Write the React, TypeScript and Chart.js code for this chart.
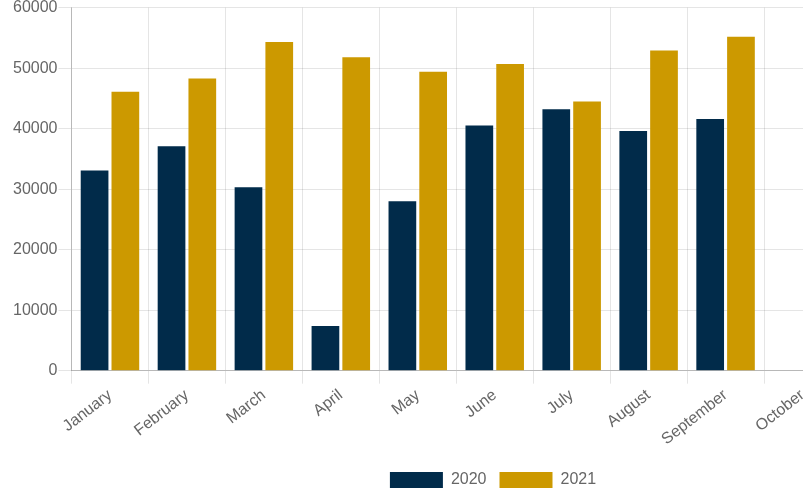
import { useEffect, useRef } from "react";
import { Chart, registerables } from "chart.js";

Chart.register(...registerables);

const months = ["January", "February", "March", "April", "May", "June", "July", "August", "September", "October"];
const sales2020 = [33100, 37100, 30300, 7400, 28000, 40500, 43200, 39600, 41600, null];
const sales2021 = [46100, 48300, 54300, 51800, 49400, 50700, 44500, 52900, 55200, null];
const yMin = 0;
const yMax = 60000;
const yStep = 10000;

const NAVY = "#012b4a";
const GOLD = "#cc9900";
const GRID = "rgba(0,0,0,0.1)";
const AXIS = "rgba(0,0,0,0.2)";
const FONT = "'Liberation Sans', Arial, sans-serif";

export default function App() {
  const ref = useRef<HTMLCanvasElement | null>(null);

  useEffect(() => {
    if (!ref.current) return;
    const chart = new Chart(ref.current, {
      type: "bar",
      data: {
        labels: months,
        datasets: [
          { label: "2020", data: sales2020, backgroundColor: NAVY, borderWidth: 0 },
          { label: "2021", data: sales2021, backgroundColor: GOLD, borderWidth: 0 },
        ],
      },
      options: {
        animation: false,
        responsive: true,
        maintainAspectRatio: false,
        layout: { padding: 0 },
        font: { family: FONT, size: 16 },
        plugins: {
          legend: {
            position: "bottom",
            labels: {
              color: "#666",
              boxWidth: 53,
              boxHeight: 16,
              padding: 13,
              font: { family: FONT, size: 16 },
            },
          },
          tooltip: { enabled: false },
        },
        scales: {
          x: {
            grid: { color: GRID, tickLength: 13, offset: true },
            border: { color: AXIS },
            ticks: {
              color: "#666",
              padding: 2,
              minRotation: 38,
              maxRotation: 38,
              font: { family: FONT, size: 16 },
            },
            afterFit: (scale: any) => {
              scale.height += 8;
            },
          },
          y: {
            min: yMin,
            max: yMax,
            grid: { color: GRID, tickLength: 13 },
            border: { color: AXIS },
            ticks: {
              stepSize: yStep,
              color: "#666",
              padding: 1,
              font: { family: FONT, size: 16 },
              callback: (v: any) => String(v),
            },
          },
          spacer: {
            type: "linear",
            position: "right",
            display: true,
            grid: { display: false },
            border: { display: false },
            ticks: { display: false },
            afterFit: (scale: any) => {
              scale.width = 133;
            },
          },
        },
      } as any,
    });
    return () => chart.destroy();
  }, []);

  return (
    <div style={{ position: "fixed", left: 0, top: 0, width: 803, height: 500, overflow: "hidden", background: "#fff" }}>
      <div style={{ position: "absolute", left: 12, top: -3, width: 962, height: 501 }}>
        <canvas ref={ref} />
      </div>
    </div>
  );
}
